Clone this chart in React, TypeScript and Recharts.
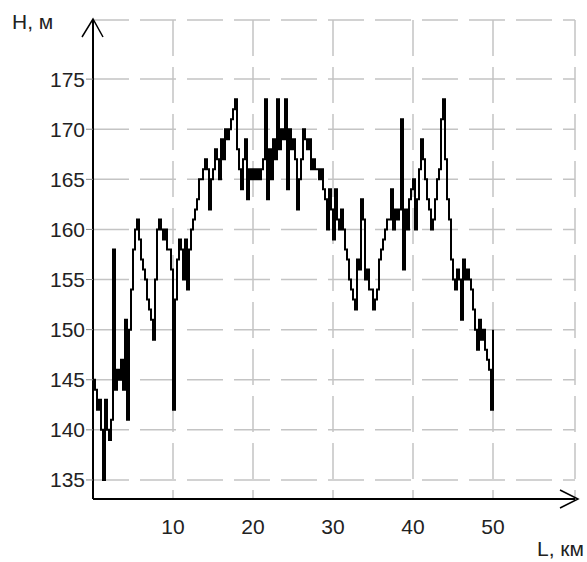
import { LineChart, Line, XAxis, YAxis, CartesianGrid } from "recharts";

// distance step between samples, km
const STEP = 0.25;

// elevation samples, m (4 per km, from 0 to 50 km)
const heights: number[] = [
  145, 144, 142, 143,
  140, 135, 143, 140,
  139, 141, 158, 144,
  146, 145, 147, 144,
  151, 141, 150, 154,
  158, 160, 161, 159,
  157, 156, 155, 153,
  152, 151, 149, 155,
  160, 161, 160, 159,
  160, 158, 158, 156,
  142, 153, 157, 159,
  158, 155, 159, 154,
  158, 160, 161, 162,
  163, 165, 165, 166,
  167, 166, 162, 165,
  166, 168, 167, 165,
  169, 167, 170, 169,
  170, 171, 172, 173,
  168, 166, 164, 167,
  169, 163, 166, 165,
  166, 165, 166, 165,
  166, 167, 173, 163,
  168, 165, 169, 167,
  173, 168, 170, 169,
  173, 164, 170, 168,
  169, 167, 162, 165,
  167, 170, 169, 168,
  169, 166, 167, 166,
  166, 165, 166, 164,
  163, 160, 164, 162,
  159, 164, 161, 160,
  162, 160, 158, 157,
  155, 154, 153, 152,
  157, 156, 163, 161,
  155, 156, 154, 154,
  152, 153, 154, 157,
  158, 159, 160, 161,
  161, 164, 160, 162,
  161, 162, 171, 156,
  162, 160, 163, 164,
  165, 160, 163, 166,
  169, 167, 165, 163,
  162, 160, 161, 163,
  165, 166, 171, 173,
  167, 163, 161, 157,
  155, 154, 156, 155,
  151, 157, 155, 156,
  155, 154, 152, 150,
  148, 151, 149, 150,
  148, 147, 146, 142,
  150,
];

const xTicks = [10, 20, 30, 40, 50];
const yTicks = [135, 140, 145, 150, 155, 160, 165, 170, 175];

const data = heights.map((h, i) => ({ km: i * STEP, h }));

const font = "'Liberation Sans', Arial, sans-serif";
const tickStyle = { fontSize: 21, fill: "#222", fontFamily: font };

export default function App() {
  return (
    <div
      style={{
        position: "absolute",
        left: 0,
        top: 0,
        width: 587,
        height: 562,
        background: "#fff",
        fontFamily: font,
      }}
    >
      <LineChart
        width={587}
        height={562}
        data={data}
        margin={{ top: 20, right: 12, left: 0, bottom: 33 }}
      >
        <CartesianGrid stroke="#c4c4c4" strokeDasharray="36 11" strokeWidth={1.5} />
        <XAxis
          dataKey="km"
          type="number"
          domain={[0, 60.25]}
          allowDataOverflow
          ticks={xTicks}
          height={30}
          tickLine={false}
          tickMargin={14}
          axisLine={{ stroke: "#000", strokeWidth: 2 }}
          tick={tickStyle}
        />
        <YAxis
          type="number"
          domain={[133.1, 180.9]}
          allowDataOverflow
          ticks={yTicks}
          width={93}
          tickSize={7}
          tickMargin={1}
          tickLine={{ stroke: "#888" }}
          axisLine={{ stroke: "#000", strokeWidth: 2 }}
          tick={tickStyle}
        />
        <Line
          type="stepAfter"
          dataKey="h"
          stroke="#000"
          strokeWidth={2}
          dot={false}
          isAnimationActive={false}
        />
      </LineChart>
      <svg
        width={587}
        height={562}
        style={{ position: "absolute", left: 0, top: 0, pointerEvents: "none" }}
      >
        <polyline points="82,37 93,19 103,37" fill="none" stroke="#000" strokeWidth={1.5} />
        <polyline points="560,490 578,499 560,508" fill="none" stroke="#000" strokeWidth={1.5} />
      </svg>
      <div style={{ position: "absolute", left: 12, top: 10, fontSize: 21, color: "#222" }}>
        H, м
      </div>
      <div style={{ position: "absolute", left: 537, top: 537, fontSize: 21, color: "#222" }}>
        L, км
      </div>
    </div>
  );
}
